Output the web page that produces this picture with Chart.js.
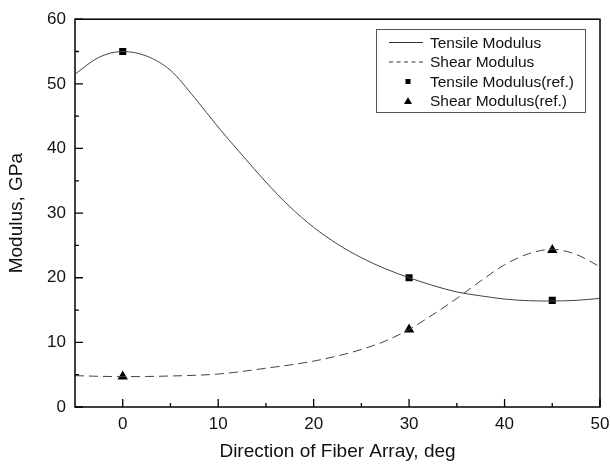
<!DOCTYPE html>
<html>
<head>
<meta charset="utf-8">
<script src="https://cdn.jsdelivr.net/npm/chart.js@4/dist/chart.umd.min.js"></script>
<style>
  html, body { margin: 0; padding: 0; background: #fff; }
  #wrap { width: 610px; height: 464px; }
</style>
</head>
<body>
<div id="wrap"><canvas id="modulus-chart"></canvas></div>
<script>
Chart.defaults.font.family = '"Liberation Sans", Arial, sans-serif';
Chart.defaults.color = '#111';

// Fibre direction (deg) and fitted curves
const angles = [-5, -2.5, 0, 2.5, 5, 7.5, 10, 12.5, 15, 17.5, 20, 22.5, 25, 27.5, 30, 32.5, 35, 37.5, 40, 42.5, 45, 47.5, 50];
const tensileCurve = [51.5, 54.1, 55.0, 54.3, 52.1, 47.9, 43.3, 39.0, 34.8, 31.0, 27.8, 25.2, 23.1, 21.4, 20.0, 18.8, 17.8, 17.2, 16.7, 16.45, 16.4, 16.5, 16.8];
const shearCurve = [4.85, 4.75, 4.7, 4.72, 4.8, 4.9, 5.1, 5.5, 6.0, 6.5, 7.1, 7.9, 8.9, 10.2, 12.0, 14.3, 16.8, 19.5, 22.0, 23.7, 24.4, 23.6, 21.7];

// Reference values
const refAngles = [0, 30, 45];
const tensileRef = [55.0, 20.0, 16.5];
const shearRef = [4.7, 12.0, 24.3];

const xTicks = [0, 10, 20, 30, 40, 50];
const yTicks = [0, 10, 20, 30, 40, 50, 60];
const xMinor = [-5, 5, 15, 25, 35, 45];
const yMinor = [5, 15, 25, 35, 45, 55];

const legendItems = ['Tensile Modulus', 'Shear Modulus', 'Tensile Modulus(ref.)', 'Shear Modulus(ref.)'];

function pairs(xs, ys) {
   return xs.map((x, i) => ({ x: x, y: ys[i] }));
}

// frame with inward ticks
const framePlugin = {
   id: 'frame',
   afterDraw(chart) {
      const { ctx, chartArea: a, scales } = chart;
      ctx.save();
      ctx.strokeStyle = '#000';
      ctx.lineWidth = 1.5;
      ctx.strokeRect(a.left, a.top, a.right - a.left, a.bottom - a.top);
      ctx.lineWidth = 1.3;
      ctx.beginPath();
      xTicks.forEach(v => {
         const px = scales.x.getPixelForValue(v);
         ctx.moveTo(px, a.bottom); ctx.lineTo(px, a.bottom - 8);
      });
      xMinor.forEach(v => {
         const px = scales.x.getPixelForValue(v);
         if (px > a.left + 1) { ctx.moveTo(px, a.bottom); ctx.lineTo(px, a.bottom - 4); }
      });
      yTicks.forEach(v => {
         const py = scales.y.getPixelForValue(v);
         ctx.moveTo(a.left, py); ctx.lineTo(a.left + 8, py);
      });
      yMinor.forEach(v => {
         const py = scales.y.getPixelForValue(v);
         ctx.moveTo(a.left, py); ctx.lineTo(a.left + 4, py);
      });
      ctx.stroke();
      ctx.restore();
   }
};

// legend box inside the plot
const boxLegend = {
   id: 'boxLegend',
   afterDraw(chart) {
      const ctx = chart.ctx;
      const left = 376, top = 29, w = 209, h = 83;
      ctx.save();
      ctx.fillStyle = '#fff';
      ctx.fillRect(left, top, w, h);
      ctx.strokeStyle = '#555';
      ctx.lineWidth = 1;
      ctx.strokeRect(left + 0.5, top + 0.5, w, h);
      ctx.font = '15.5px "Liberation Sans", Arial, sans-serif';
      ctx.textBaseline = 'middle';
      legendItems.forEach((label, i) => {
         const cy = top + 13.5 + i * 19.5;
         ctx.strokeStyle = '#333';
         ctx.fillStyle = '#000';
         if (i < 2) {
            ctx.setLineDash(i === 1 ? [4, 3.5] : []);
            ctx.beginPath();
            ctx.moveTo(389, cy); ctx.lineTo(423, cy);
            ctx.stroke();
            ctx.setLineDash([]);
         } else if (i === 2) {
            ctx.fillRect(405.5, cy - 2.5, 5, 5);
         } else {
            ctx.beginPath();
            ctx.moveTo(408, cy - 4); ctx.lineTo(412, cy + 3); ctx.lineTo(404, cy + 3);
            ctx.closePath(); ctx.fill();
         }
         ctx.fillStyle = '#111';
         ctx.fillText(label, 430, cy + 1);
      });
      ctx.restore();
   }
};

new Chart(document.getElementById('modulus-chart'), {
   type: 'scatter',
   data: {
      datasets: [{
         label: legendItems[0],
         data: pairs(angles, tensileCurve),
         showLine: true,
         cubicInterpolationMode: 'monotone',
         borderColor: '#444',
         borderWidth: 1,
         pointRadius: 0
      }, {
         label: legendItems[1],
         data: pairs(angles, shearCurve),
         showLine: true,
         cubicInterpolationMode: 'monotone',
         borderColor: '#444',
         borderWidth: 1,
         borderDash: [9, 5],
         pointRadius: 0
      }, {
         label: legendItems[2],
         data: pairs(refAngles, tensileRef),
         pointStyle: 'rect',
         pointRadius: 5,
         backgroundColor: '#000',
         borderColor: '#000',
         borderWidth: 0
      }, {
         label: legendItems[3],
         data: pairs(refAngles, shearRef),
         pointStyle: 'triangle',
         pointRadius: 6,
         backgroundColor: '#000',
         borderColor: '#000',
         borderWidth: 0
      }]
   },
   options: {
      responsive: true,
      maintainAspectRatio: false,
      animation: false,
      layout: { padding: { top: 19, right: 0, left: 0, bottom: 0 } },
      plugins: {
         legend: { display: false },
         tooltip: { enabled: false }
      },
      scales: {
         x: {
            type: 'linear',
            min: -5,
            max: 50,
            afterBuildTicks: s => { s.ticks = xTicks.map(v => ({ value: v })); },
            afterFit: s => { s.height = 57; s.paddingRight = 10; s.paddingLeft = 0; },
            grid: { display: false, drawTicks: false },
            border: { display: false },
            ticks: { padding: 7, font: { size: 17 }, color: '#111' },
            title: {
               display: true,
               text: 'Direction of Fiber Array, deg',
               font: { size: 19 },
               color: '#111',
               padding: { top: 6, bottom: 1 }
            }
         },
         y: {
            type: 'linear',
            min: 0,
            max: 60,
            afterBuildTicks: s => { s.ticks = yTicks.map(v => ({ value: v })); },
            afterFit: s => { s.width = 75; },
            grid: { display: false, drawTicks: false },
            border: { display: false },
            ticks: { padding: 9, font: { size: 17 }, color: '#111' },
            title: {
               display: true,
               text: 'Modulus, GPa',
               font: { size: 19 },
               color: '#111',
               padding: { top: 5, bottom: 4 }
            }
         }
      }
   },
   plugins: [framePlugin, boxLegend]
});
</script>
</body>
</html>
